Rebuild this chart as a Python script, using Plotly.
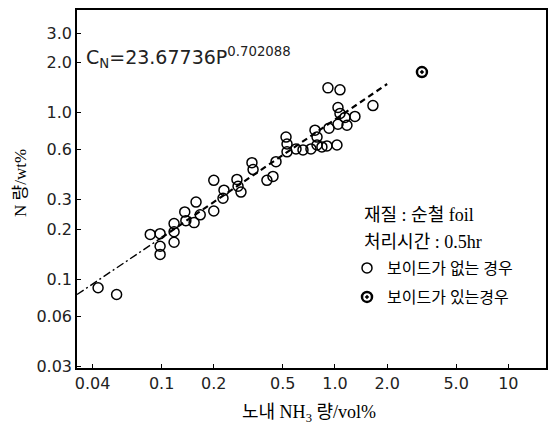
import plotly.graph_objects as go
import math

# ---- data (NH3 in furnace, vol% ; N content, wt%) ----
no_void_x = [0.043, 0.055, 0.086, 0.098, 0.098, 0.098, 0.118, 0.118, 0.118, 0.136,
             0.138, 0.154, 0.158, 0.167, 0.200, 0.200, 0.226, 0.229, 0.272, 0.276,
             0.287, 0.332, 0.337, 0.405, 0.439, 0.457, 0.522, 0.529, 0.529, 0.596,
             0.654, 0.727, 0.788, 0.841, 0.899, 1.027, 0.767, 0.788, 0.924, 1.041,
             1.173, 0.911, 1.069, 1.041, 1.069, 1.142, 1.304, 1.656]
no_void_y = [0.089, 0.081, 0.186, 0.188, 0.158, 0.141, 0.216, 0.193, 0.167, 0.254,
             0.225, 0.219, 0.291, 0.244, 0.257, 0.393, 0.307, 0.343, 0.398, 0.362,
             0.334, 0.502, 0.456, 0.393, 0.415, 0.509, 0.715, 0.650, 0.583, 0.607,
             0.599, 0.607, 0.641, 0.624, 0.633, 0.641, 0.787, 0.715, 0.809, 0.854,
             0.842, 1.413, 1.375, 1.077, 0.992, 0.939, 0.952, 1.106]
void_x = [3.175]
void_y = [1.758]

fit_x = [0.0325, 0.1, 2.0]
fit_y = [0.081, 0.178, 1.49]

x_ticks = [0.04, 0.1, 0.2, 0.5, 1.0, 2.0, 5.0, 10]
x_tick_text = ["0.04", "0.1", "0.2", "0.5", "1.0", "2.0", "5.0", "10"]
y_ticks = [0.03, 0.06, 0.1, 0.2, 0.3, 0.6, 1.0, 2.0, 3.0]
y_tick_text = ["0.03", "0.06", "0.1", "0.2", "0.3", "0.6", "1.0", "2.0", "3.0"]

x_range = [0.0325, 16.5]
y_range = [0.0293, 4.15]

equation = "C<sub>N</sub>=23.67736P<sup>0.702088</sup>"
x_title = "노내 NH<sub>3</sub> 량/vol%"
y_title = "N 량/wt%"
info_lines = ["재질 : 순철 foil", "처리시간 : 0.5hr"]
legend_no_void = "보이드가 없는 경우"
legend_void = "보이드가 있는경우"

SERIF = "Liberation Serif, Noto Sans CJK KR, serif"
SANS = "DejaVu Sans, Liberation Sans, sans-serif"

fig = go.Figure()
fig.add_trace(go.Scatter(
    x=fit_x[:2], y=fit_y[:2], mode="lines", showlegend=False,
    line=dict(color="black", width=1.4, dash="8px,3px,2px,3px")))
fig.add_trace(go.Scatter(
    x=fit_x[1:], y=fit_y[1:], mode="lines", showlegend=False,
    line=dict(color="black", width=2.2, dash="6px,4px")))
fig.add_trace(go.Scatter(
    x=no_void_x, y=no_void_y, mode="markers", name=legend_no_void, legend="legend",
    marker=dict(symbol="circle-open", size=10, color="black", line=dict(width=1.5))))
fig.add_trace(go.Scatter(
    x=void_x, y=void_y, mode="markers", name=legend_void, legend="legend2",
    marker=dict(symbol="circle-open-dot", size=10, color="black", line=dict(width=2.5))))

axis_common = dict(
    type="log", showline=True, linecolor="black", linewidth=1.5, mirror=True,
    ticks="inside", ticklen=4, tickcolor="black", tickwidth=1,
    showgrid=False, zeroline=False, automargin=False,
    tickfont=dict(family=SANS, size=16, color="#222"))

fig.update_xaxes(range=[math.log10(x_range[0]), math.log10(x_range[1])],
                 tickvals=x_ticks, ticktext=x_tick_text, **axis_common)
fig.update_yaxes(range=[math.log10(y_range[0]), math.log10(y_range[1])],
                 tickvals=y_ticks, ticktext=y_tick_text, **axis_common)

L, R, T, B = 77, 4, 10, 66
PW, PH = 550 - L - R, 434 - T - B


def px(xp):
    return (xp - L) / PW


def py(yp):
    return 1 - (yp - T) / PH


annotations = [
    dict(text=equation, xref="paper", yref="paper", x=px(84), y=py(57),
         xanchor="left", yanchor="middle", showarrow=False,
         font=dict(family=SANS, size=19, color="#222")),
    dict(text=x_title, xref="paper", yref="paper", x=px(309), y=py(413),
         xanchor="center", yanchor="middle", showarrow=False,
         font=dict(family=SERIF, size=18, color="black")),
    dict(text=y_title, xref="paper", yref="paper", x=px(20), y=py(183),
         xanchor="center", yanchor="middle", showarrow=False, textangle=-90,
         font=dict(family=SERIF, size=17, color="black")),
]
for i, line in enumerate(info_lines):
    annotations.append(dict(
        text=line, xref="paper", yref="paper", x=px(362), y=py(215 + i * 27),
        xanchor="left", yanchor="middle", showarrow=False,
        font=dict(family=SERIF, size=18, color="black")))

leg_common = dict(xanchor="left", yanchor="middle", bgcolor="rgba(0,0,0,0)",
                  borderwidth=0, font=dict(family=SERIF, size=16, color="black"),
                  itemwidth=30)

fig.update_layout(
    width=550, height=434,
    margin=dict(l=L, r=R, t=T, b=B),
    paper_bgcolor="white", plot_bgcolor="white",
    showlegend=True,
    legend=dict(x=px(347), y=py(268), **leg_common),
    legend2=dict(x=px(347), y=py(297), **leg_common),
    annotations=annotations,
)

fig.write_html(
    "out.html",
    config={"displayModeBar": False},
    post_script="document.body.style.margin='0px';document.body.style.overflow='hidden';",
)
